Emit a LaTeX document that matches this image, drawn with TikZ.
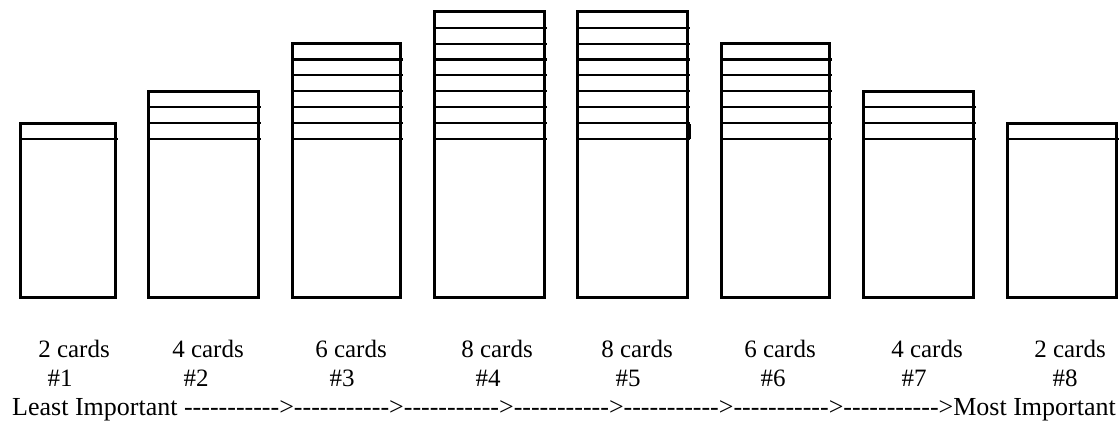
\documentclass[tikz,border=0pt]{standalone}
\usepackage{fontspec}
\setmainfont{Liberation Serif}
% plain hyphens, kept apart so they never join into dashes
\newcommand\hy{-\kern0pt}
\newcommand\segarrow{\hy\hy\hy\hy\hy\hy\hy\hy\hy\hy\hy>}
\begin{document}
\begin{tikzpicture}[x=1pt,y=-1pt,
  stackbox/.style={draw=black,line width=3pt},
  cardline/.style={draw=black,line width=2.1pt},
  lbl/.style={anchor=base,inner sep=0pt,font=\fontsize{25}{30}\selectfont},
  scaletext/.style={anchor=base west,inner sep=0pt,font=\fontsize{26}{30}\selectfont}]
\useasboundingbox (0,0) rectangle (1119,425);
% card stacks: left / right / number of strips
\foreach \l/\r/\n [count=\i] in {20/115/1,148/258/3,292/400/6,434/544/8,577/687/8,721/829/6,863/973/3,1007/1116/1}{
  \pgfmathsetmacro{\topy}{139-\n*15.9}
  \foreach \k in {1,...,\n}{
    \pgfmathsetmacro{\ly}{139-(\k-1)*15.9}
    \draw[cardline] (\l,\ly) -- (\r+2.5,\ly);
  }
  \draw[stackbox] (\l,\topy) rectangle (\r,297);
  \coordinate (s\i) at ({(\l+\r)/2},297);
}
% small marks on the fifth stack
\fill (686,124) rectangle (690.5,139);
\draw[line width=3pt] (657,60) -- (672,60);
% labels
\foreach \x/\c/\h/\hx [count=\i] in {74/2/1/60,208/4/2/196,351/6/3/342,497/8/4/488,637/8/5/628,780/6/6/773,927/4/7/914,1070/2/8/1065}{
  \node[lbl] (c\i) at (\x,357) {\c\ cards};
  \node[lbl] (h\i) at (\hx,386) {\#\h};
}
\node[scaletext] (scale) at (12,415) {Least Important \segarrow\segarrow\segarrow\segarrow\segarrow\segarrow\segarrow Most Important};
\end{tikzpicture}
\end{document}
